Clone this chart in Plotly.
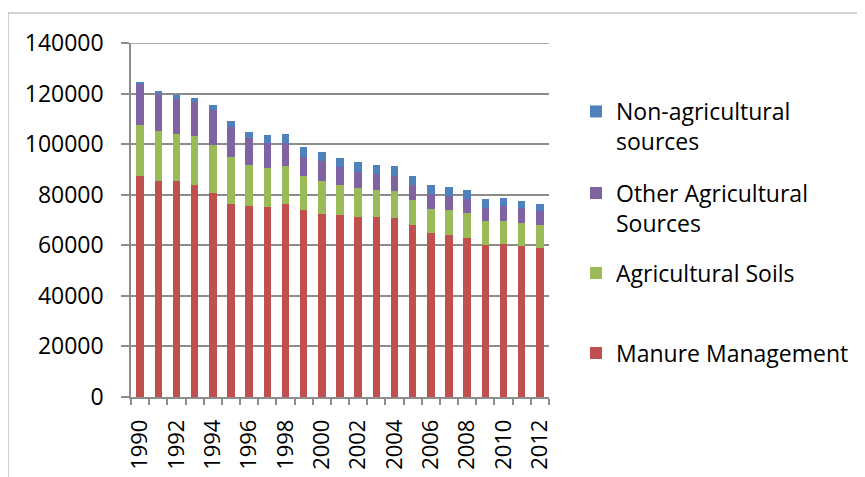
import plotly.graph_objects as go

years = list(range(1990, 2013))
manure = [87500, 85600, 85600, 83800, 80700, 76500, 75700, 75300, 76500, 74000, 72500, 71800,
          71300, 71100, 70800, 67900, 64900, 64100, 62700, 60100, 60600, 59700, 59100]
ag_soils = [20000, 19700, 18500, 19500, 19000, 18300, 16100, 15300, 14900, 13600, 12800, 12000,
            11400, 10700, 10700, 10200, 9600, 9800, 10100, 9400, 9100, 9100, 8800]
other_ag = [16100, 14700, 13700, 13500, 13800, 12100, 10600, 10000, 9200, 7500, 8000, 7000,
            6200, 6300, 6100, 5700, 5600, 5400, 5700, 5400, 5700, 5800, 5600]
non_ag = [1100, 1100, 1500, 1500, 2100, 2200, 2500, 3000, 3400, 3600, 3600, 3800,
          4000, 3800, 3800, 3800, 3600, 3700, 3300, 3300, 3200, 2900, 2700]

series_names = ["Manure Management", "Agricultural Soils",
                "Other Agricultural<br>Sources", "Non-agricultural<br>sources"]
series_values = [manure, ag_soils, other_ag, non_ag]
series_colors = ["#C0504D", "#9BBB59", "#8064A2", "#4F81BD"]
legend_ids = ["legend4", "legend3", "legend2", "legend"]

tick_years = [y for y in years if y % 2 == 0]
y_ticks = [0, 20000, 40000, 60000, 80000, 100000, 120000, 140000]

FONT = "Open Sans"
OFF = 8  # page body margin
W, H = 865 - OFF, 477 - OFF
# plot area in screen pixels
SL, SR, ST, SB = 131, 549, 43, 397


def px(x):
    return (x - SL) / (SR - SL)


def py(y):
    return (SB - y) / (SB - ST)


fig = go.Figure()
for name, vals, col, lg in zip(series_names, series_values, series_colors, legend_ids):
    fig.add_trace(go.Bar(x=years, y=vals, name=name, marker=dict(color=col, line=dict(width=0)),
                         legend=lg))

grid = "#8c8c8c"
legend_centers = [112.5, 194, 274, 354]
leg_common = dict(font=dict(family=FONT, size=23, color="#000000"), bgcolor="rgba(0,0,0,0)",
                  valign="top", xanchor="left", yanchor="top", x=px(576))
layout_legends = {}
for lid, cy in zip(["legend", "legend2", "legend3", "legend4"], legend_centers):
    layout_legends[lid] = dict(leg_common, y=py(cy - 22.5))

fig.update_layout(
    width=W, height=H,
    margin=dict(l=SL - OFF, r=W - (SR - OFF), t=ST - OFF, b=H - (SB - OFF), pad=0, autoexpand=False),
    barmode="stack", bargap=0.59,
    plot_bgcolor="white", paper_bgcolor="white",
    font=dict(family=FONT, color="#000000"),
    xaxis=dict(range=[1989.5, 2012.5], tickmode="array", tickvals=tick_years,
               ticktext=[str(y) for y in tick_years], tickangle=-90, ticks="",
               ticklabelstandoff=12, automargin=False,
               tickfont=dict(family=FONT, size=22), showgrid=False, showline=True,
               linecolor=grid, linewidth=1.5, zeroline=False,
               minor=dict(tick0=1989.5, dtick=1, ticks="outside", ticklen=6,
                          tickcolor=grid, tickwidth=1.5, showgrid=False)),
    yaxis=dict(range=[0, 140000], tickmode="array", tickvals=y_ticks,
               ticktext=[str(v) for v in y_ticks], ticks="outside", ticklen=8,
               ticklabelstandoff=13, automargin=False,
               tickcolor=grid, tickwidth=1.5, tickfont=dict(family=FONT, size=23),
               showgrid=True, gridcolor=grid, gridwidth=1.5, showline=True, linecolor=grid,
               linewidth=1.5, zeroline=False),
    showlegend=True,
    **layout_legends,
    shapes=[
        dict(type="rect", xref="paper", yref="paper", x0=px(8), x1=px(870), y0=py(485), y1=py(13),
             line=dict(color="#a6a6a6", width=1), fillcolor="rgba(0,0,0,0)", layer="below"),
        dict(type="line", xref="paper", yref="y", x0=0, x1=1, y0=y_ticks[-1], y1=y_ticks[-1],
             line=dict(color=grid, width=1.5), layer="below"),
    ],
)

fig.write_html("out.html")
